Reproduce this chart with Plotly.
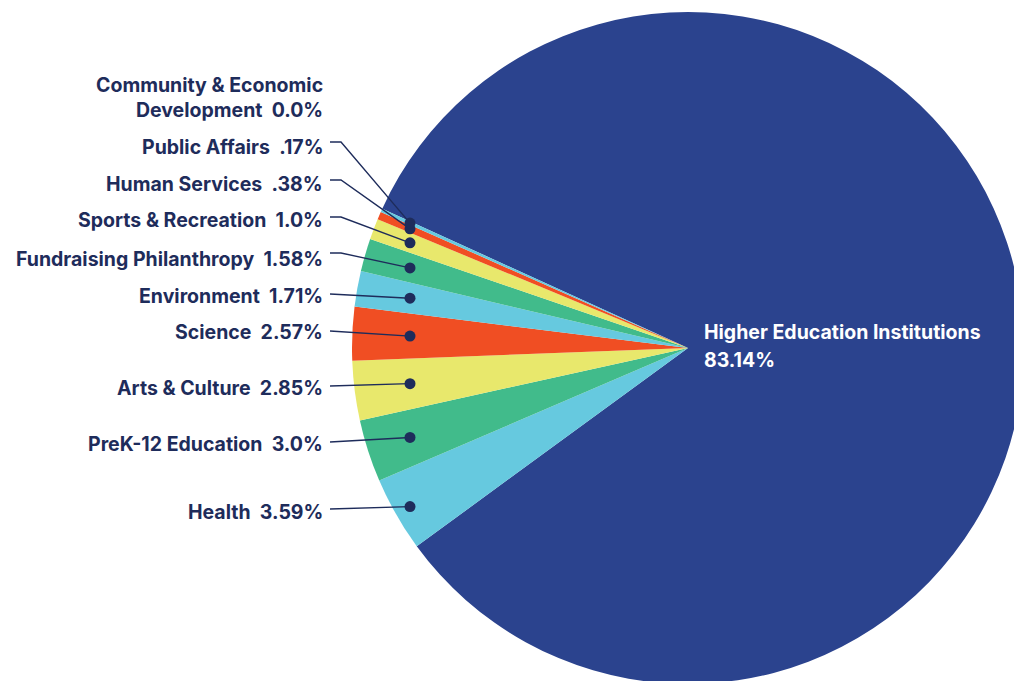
import math
import plotly.graph_objects as go

# ---- data ----
categories = ["Higher Education Institutions", "Health", "PreK-12 Education", "Arts & Culture",
              "Science", "Environment", "Fundraising Philanthropy", "Sports & Recreation",
              "Human Services", "Public Affairs", "Community & Economic Development"]
values = [83.14, 3.59, 3.0, 2.85, 2.57, 1.71, 1.58, 1.0, 0.38, 0.17, 0.0]
value_labels = ["83.14%", "3.59%", "3.0%", "2.85%", "2.57%", "1.71%", "1.58%", "1.0%",
                ".38%", ".17%", "0.0%"]
display_names = ["Higher Education Institutions", "Health", "PreK-12 Education", "Arts & Culture",
                 "Science", "Environment", "Fundraising Philanthropy", "Sports & Recreation",
                 "Human Services", "Public Affairs", "Community & Economic<br>Development"]

# ---- styles / layout positions ----
colors = ["#2b438e", "#66c9df", "#41bb8b", "#e8e86c", "#f04e23",
          "#66c9df", "#41bb8b", "#e8e86c", "#f04e23", "#66c9df", "#41bb8b"]
NAVY = "#1e2c5b"
W, H = 1024, 684
CX, CY, R = 688, 348, 336
ROTATION = -65.5
label_text_y = [None, 512, 444, 388, 332, 296, 259, 220, 184, 147, 97]
leader_y = [None, 509, 442, 386, 331, 294, 253, 217, 180, 142, None]
LABEL_RIGHT = 325
LINE_START = 330
ELBOW = 341
DOT_X = 410
DOT_R = 5.5
FONT = "Inter"
FSIZE = 19.5

fig = go.Figure()
fig.add_trace(go.Pie(
    labels=categories, values=values, sort=False, direction="clockwise",
    rotation=ROTATION, marker=dict(colors=colors, line=dict(width=0)),
    textinfo="none", hoverinfo="label+percent", showlegend=False,
    domain=dict(x=[(CX - R) / W, (CX + R) / W], y=[(H - CY - R) / H, (H - CY + R) / H]),
))

# leader lines and dots: dot on each slice's mid-angle where it crosses x = DOT_X
total = sum(values)
cum = 0.0
shapes = []
annotations = []
for i, v in enumerate(values):
    mid = ROTATION + 360.0 * (cum + v / 2.0) / total
    cum += v
    if i == 0:
        continue
    ly = leader_y[i]
    if v > 0:
        th = math.radians(mid)
        t = (DOT_X - CX) / math.sin(th)
        dy = CY - t * math.cos(th)
        if abs(dy - ly) < 8:
            path = f"M {LINE_START},{ly} L {DOT_X},{dy:.2f}"
        else:
            path = f"M {LINE_START},{ly} L {ELBOW},{ly} L {DOT_X},{dy:.2f}"
        shapes.append(dict(type="path", xref="x", yref="y", path=path, layer="above",
                           line=dict(color=NAVY, width=1.4)))
        shapes.append(dict(type="circle", xref="x", yref="y", layer="above",
                           x0=DOT_X - DOT_R, x1=DOT_X + DOT_R, y0=dy - DOT_R, y1=dy + DOT_R,
                           fillcolor=NAVY, line=dict(width=0)))
    annotations.append(dict(
        x=LABEL_RIGHT, y=label_text_y[i], xref="x", yref="y",
        xanchor="right", yanchor="middle", align="right", showarrow=False,
        text=display_names[i] + "\u00a0\u00a0" + value_labels[i],
        font=dict(family=FONT, size=FSIZE, color=NAVY, weight=700),
    ))

annotations.append(dict(x=702, y=332, xref="x", yref="y", xanchor="left", yanchor="middle",
                        showarrow=False, text=display_names[0],
                        font=dict(family=FONT, size=FSIZE, color="white", weight=700)))
annotations.append(dict(x=702, y=360, xref="x", yref="y", xanchor="left", yanchor="middle",
                        showarrow=False, text=value_labels[0],
                        font=dict(family=FONT, size=FSIZE, color="white", weight=700)))

fig.update_layout(
    width=W, height=H, margin=dict(l=0, r=0, t=0, b=0),
    paper_bgcolor="white", plot_bgcolor="rgba(0,0,0,0)",
    xaxis=dict(range=[0, W], visible=False, fixedrange=True),
    yaxis=dict(range=[H, 0], visible=False, fixedrange=True),
    annotations=annotations, shapes=shapes,
)
fig.write_html("out.html", config={"displayModeBar": False},
               post_script="document.body.style.margin='0';document.body.style.overflow='hidden';")
